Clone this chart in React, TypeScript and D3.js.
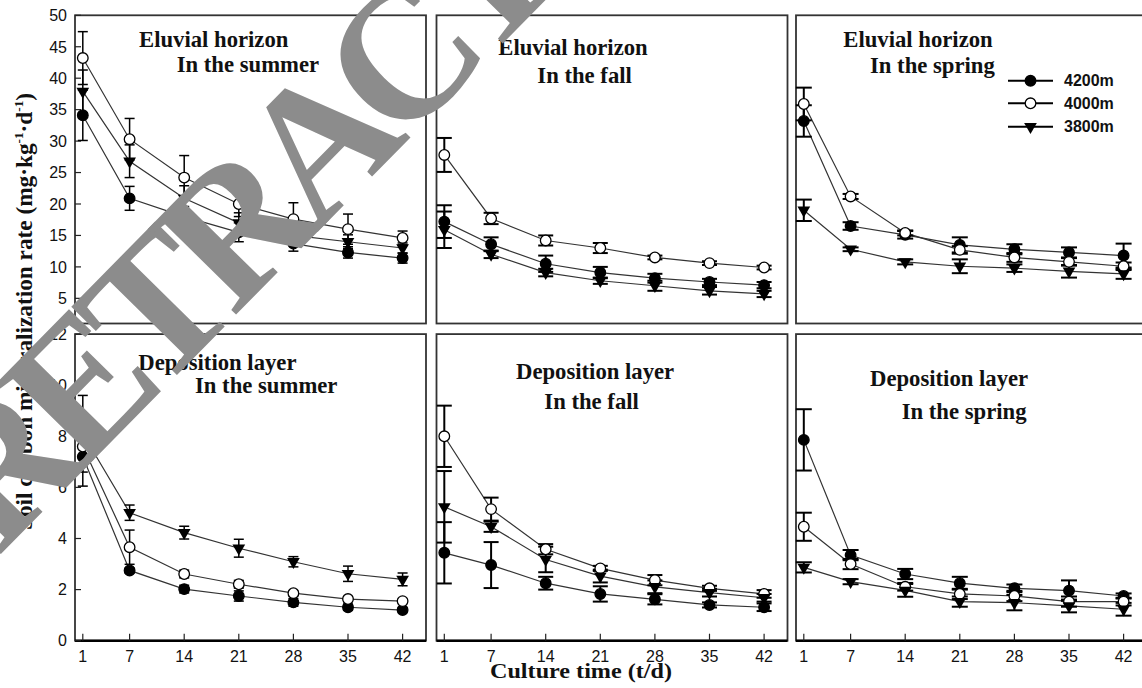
import React from 'react'
import * as d3 from 'd3'

const days = [1, 7, 14, 21, 28, 35, 42]
const altitudes = ['4200m', '4000m', '3800m']
const topTicks = [5, 10, 15, 20, 25, 30, 35, 40, 45, 50]
const bottomTicks = [0, 2, 4, 6, 8, 10, 12]

// eluvial horizon (top row)
const eluvialSummer4200 = [34.1, 20.9, 18.0, 15.5, 13.7, 12.3, 11.4]
const eluvialSummer4200Se = [4.0, 1.9, 1.6, 1.5, 1.2, 0.9, 0.8]
const eluvialSummer4000 = [43.2, 30.3, 24.2, 20.0, 17.6, 16.0, 14.6]
const eluvialSummer4000Se = [4.2, 3.3, 3.5, 2.0, 2.6, 2.4, 1.1]
const eluvialSummer3800 = [37.9, 26.8, 20.9, 17.0, 15.0, 14.0, 13.0]
const eluvialSummer3800Se = [3.4, 2.6, 2.0, 1.6, 1.2, 1.1, 0.8]

const eluvialFall4200 = [17.2, 13.6, 10.5, 9.1, 8.2, 7.6, 7.1]
const eluvialFall4200Se = [2.6, 1.1, 1.3, 0.9, 0.7, 0.5, 0.5]
const eluvialFall4000 = [27.8, 17.7, 14.2, 13.0, 11.5, 10.6, 9.9]
const eluvialFall4000Se = [2.7, 0.9, 0.8, 0.8, 0.3, 0.3, 0.3]
const eluvialFall3800 = [15.9, 12.0, 9.1, 7.8, 7.0, 6.2, 5.7]
const eluvialFall3800Se = [2.9, 0.6, 0.6, 0.5, 0.8, 0.6, 0.5]

const eluvialSpring4200 = [33.2, 16.5, 15.1, 13.5, 12.8, 12.3, 11.8]
const eluvialSpring4200Se = [2.5, 0.6, 0.6, 1.2, 0.8, 0.8, 1.9]
const eluvialSpring4000 = [35.9, 21.2, 15.4, 12.7, 11.5, 10.8, 10.1]
const eluvialSpring4000Se = [2.6, 0.4, 0.4, 0.6, 0.7, 0.6, 0.6]
const eluvialSpring3800 = [19.0, 12.8, 10.8, 10.1, 9.8, 9.3, 8.9]
const eluvialSpring3800Se = [1.7, 0.3, 0.4, 1.1, 0.6, 1.0, 0.8]

// deposition layer (bottom row)
const depositSummer4200 = [7.2, 2.75, 2.02, 1.75, 1.5, 1.31, 1.2]
const depositSummer4200Se = [1.15, 0.1, 0.15, 0.2, 0.15, 0.12, 0.1]
const depositSummer4000 = [7.6, 3.66, 2.61, 2.21, 1.86, 1.63, 1.55]
const depositSummer4000Se = [0.75, 0.67, 0.15, 0.15, 0.1, 0.1, 0.1]
const depositSummer3800 = [8.1, 5.01, 4.23, 3.62, 3.09, 2.62, 2.4]
const depositSummer3800Se = [1.5, 0.3, 0.25, 0.35, 0.2, 0.3, 0.25]

const depositFall4200 = [3.44, 2.96, 2.25, 1.83, 1.62, 1.4, 1.31]
const depositFall4200Se = [1.2, 0.9, 0.25, 0.3, 0.2, 0.1, 0.15]
const depositFall4000 = [8.0, 5.15, 3.58, 2.83, 2.37, 2.05, 1.83]
const depositFall4000Se = [1.2, 0.45, 0.2, 0.1, 0.2, 0.1, 0.15]
const depositFall3800 = [5.24, 4.46, 3.18, 2.53, 2.11, 1.88, 1.68]
const depositFall3800Se = [1.4, 0.2, 0.5, 0.25, 0.25, 0.15, 0.15]

const depositSpring4200 = [7.86, 3.35, 2.61, 2.25, 2.05, 1.96, 1.75]
const depositSpring4200Se = [1.2, 0.2, 0.2, 0.25, 0.15, 0.4, 0.1]
const depositSpring4000 = [4.46, 3.0, 2.11, 1.83, 1.75, 1.53, 1.53]
const depositSpring4000Se = [0.55, 0.2, 0.15, 0.2, 0.2, 0.2, 0.15]
const depositSpring3800 = [2.87, 2.31, 1.97, 1.53, 1.49, 1.36, 1.23]
const depositSpring3800Se = [0.2, 0.1, 0.25, 0.2, 0.3, 0.25, 0.25]

const panels = [
  {
    row: 0, col: 0,
    titles: [['Eluvial horizon', 139, 46.7], ['In the summer', 176.7, 71.7]],
    series: [[eluvialSummer4200, eluvialSummer4200Se], [eluvialSummer4000, eluvialSummer4000Se], [eluvialSummer3800, eluvialSummer3800Se]]
  },
  {
    row: 0, col: 1,
    titles: [['Eluvial horizon', 498.3, 55], ['In the fall', 537.3, 82.7]],
    series: [[eluvialFall4200, eluvialFall4200Se], [eluvialFall4000, eluvialFall4000Se], [eluvialFall3800, eluvialFall3800Se]]
  },
  {
    row: 0, col: 2,
    titles: [['Eluvial horizon', 843.3, 46.7], ['In the spring', 870, 73.3]],
    series: [[eluvialSpring4200, eluvialSpring4200Se], [eluvialSpring4000, eluvialSpring4000Se], [eluvialSpring3800, eluvialSpring3800Se]]
  },
  {
    row: 1, col: 0,
    titles: [['Deposition layer', 138.3, 370], ['In the summer', 195, 392.7]],
    series: [[depositSummer4200, depositSummer4200Se], [depositSummer4000, depositSummer4000Se], [depositSummer3800, depositSummer3800Se]]
  },
  {
    row: 1, col: 1,
    titles: [['Deposition layer', 516, 379.3], ['In the fall', 544.3, 409.3]],
    series: [[depositFall4200, depositFall4200Se], [depositFall4000, depositFall4000Se], [depositFall3800, depositFall3800Se]]
  },
  {
    row: 1, col: 2,
    titles: [['Deposition layer', 870, 386], ['In the spring', 901.7, 419.3]],
    series: [[depositSpring4200, depositSpring4200Se], [depositSpring4000, depositSpring4000Se], [depositSpring3800, depositSpring3800Se]]
  }
]

const serif = "'Liberation Serif', 'Times New Roman', serif"
const sans = "'Liberation Sans', Arial, sans-serif"
const triangle = d3.symbol().type(d3.symbolTriangle).size(70)()

function Marker ({ kind, cx, cy }: { kind: number, cx: number, cy: number }) {
  if (kind === 2) {
    return <path d={triangle as string} transform={`translate(${cx},${cy}) rotate(180)`} fill='#000' />
  }
  return <circle cx={cx} cy={cy} r={5.3} fill={kind === 0 ? '#000' : '#fff'} stroke='#000' strokeWidth={1.3} />
}

export default function App () {
  const width = 1142
  const height = 688
  const panelW = 351
  const colLeft = [75, 436.5, 796]
  const capW = [10, 15, 16]
  const yScales = [
    d3.scaleLinear().domain([1, 50]).range([323.5, 15.3]),
    d3.scaleLinear().domain([0, 12]).range([640.7, 334.1])
  ]

  return (
    <div style={{ position: 'absolute', left: 0, top: 0 }}>
      <svg width={width} height={height} style={{ display: 'block', background: '#fff' }}>
        {panels.map((p, pi) => {
          const left = colLeft[p.col]
          const x = d3.scaleLinear().domain([0, 45]).range([left, left + panelW])
          const y = yScales[p.row]
          const [y0, y1] = y.range()
          const line = d3.line<number>().x((_, i) => x(days[i])).y(v => y(v))
          const cw = capW[p.col] / 2
          return (
            <g key={pi}>
              <rect x={left} y={y1} width={panelW} height={y0 - y1} fill='none' stroke='#333' strokeWidth={1.8} />
              {p.row === 1 && (
                <g>
                  <line x1={left} x2={left + panelW} y1={y0} y2={y0} stroke='#000' strokeWidth={2.6} />
                  {days.map(d => (
                    <g key={d}>
                      <line x1={x(d)} x2={x(d)} y1={y0} y2={y0 - 7} stroke='#222' strokeWidth={1.2} />
                      <text x={x(d)} y={662} textAnchor='middle' fontFamily={sans} fontSize={16} fill='#111'>{d}</text>
                    </g>
                  ))}
                </g>
              )}
              {p.col === 0 && (p.row === 0 ? topTicks : bottomTicks).map(t => (
                <g key={t}>
                  <line x1={left} x2={left + 6} y1={y(t)} y2={y(t)} stroke='#222' strokeWidth={1.2} />
                  <text x={left - 8} y={y(t)} dy='0.36em' textAnchor='end' fontFamily={sans} fontSize={16} fill='#111'>{t}</text>
                </g>
              ))}
              {p.series.map(([m], si) => (
                <path key={si} d={line(m) as string} fill='none' stroke='#333' strokeWidth={1.2} />
              ))}
              {p.series.map(([m, se], si) => (
                <g key={si}>
                  {m.map((v, i) => {
                    const cx = x(days[i])
                    const top = y(v + se[i])
                    const bot = y(v - se[i])
                    return (
                      <g key={i} stroke='#000' strokeWidth={p.col === 0 ? 1.5 : 2}>
                        <line x1={cx} x2={cx} y1={top} y2={bot} />
                        <line x1={cx - cw} x2={cx + cw} y1={top} y2={top} />
                        <line x1={cx - cw} x2={cx + cw} y1={bot} y2={bot} />
                      </g>
                    )
                  })}
                </g>
              ))}
              {p.series.map(([m], si) => (
                <g key={si}>
                  {m.map((v, i) => <Marker key={i} kind={si} cx={x(days[i])} cy={y(v)} />)}
                </g>
              ))}
              {p.titles.map(([t, tx, ty], ti) => (
                <text key={ti} x={tx as number} y={ty as number} fontFamily={serif} fontWeight='bold' fontSize={22.7} fill='#111'>{t}</text>
              ))}
            </g>
          )
        })}

        {altitudes.map((a, i) => {
          const ly = [80.7, 103.3, 126.7][i]
          return (
            <g key={a}>
              <line x1={1008} x2={1053} y1={ly} y2={ly} stroke='#000' strokeWidth={2} />
              <Marker kind={i} cx={1030.5} cy={ly} />
              <text x={1064} y={ly} dy='0.36em' fontFamily={sans} fontWeight='bold' fontSize={16} fill='#111'>{a}</text>
            </g>
          )
        })}

        <text transform='translate(32,311.5) rotate(-90)' textAnchor='middle' fontFamily={serif} fontWeight='bold' fontSize={23} fill='#111' textLength={437} lengthAdjust='spacingAndGlyphs'>
          Soil carbon mineralization rate (mg·kg<tspan fontSize={13} dy={-9}>-1</tspan><tspan dy={9}>·d</tspan><tspan fontSize={13} dy={-9}>-1</tspan><tspan dy={9}>)</tspan>
        </text>
        <text x={581} y={678} textAnchor='middle' fontFamily={serif} fontWeight='bold' fontSize={21} fill='#111' textLength={182} lengthAdjust='spacingAndGlyphs'>Culture time (t/d)</text>

        <text transform='translate(-2.3,557.2) rotate(-45.5)' fontFamily={serif} fontWeight='bold' fontSize={188} letterSpacing={-17} fill='#8c8c8c'>RETRACTED</text>
      </svg>
    </div>
  )
}
